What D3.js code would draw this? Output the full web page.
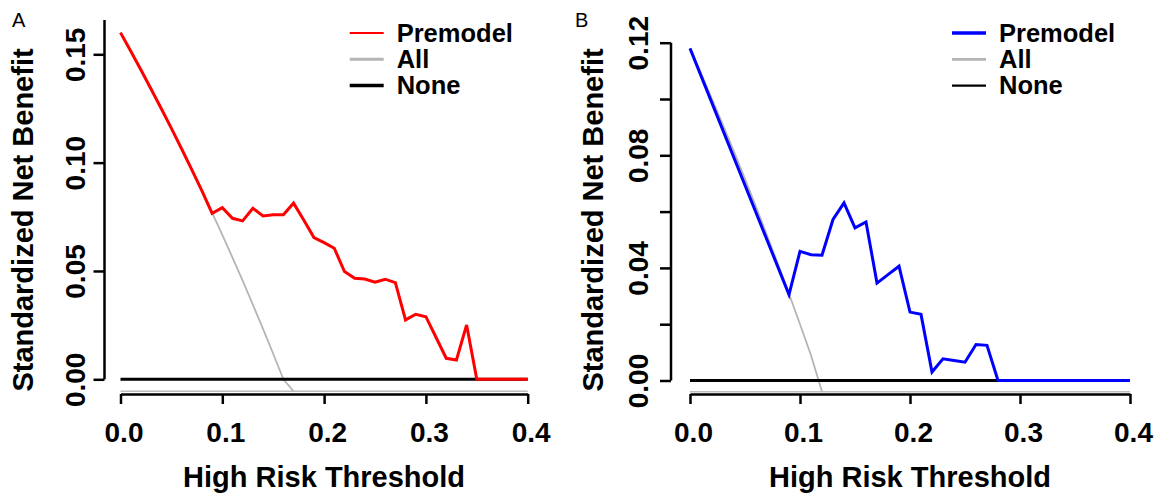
<!DOCTYPE html>
<html>
<head>
<meta charset="utf-8">
<script src="https://cdn.jsdelivr.net/npm/d3@7"></script>
<style>
  body { margin: 0; background: #fff; }
  text { font-family: "Liberation Sans", Arial, sans-serif; }
</style>
</head>
<body>
<svg id="chart" width="1163" height="493"></svg>
<script>
// thresholds and net benefit
const premodelA_t = [0, 0.01, 0.02, 0.03, 0.04, 0.05, 0.06, 0.07, 0.08, 0.09, 0.10, 0.11, 0.12, 0.13, 0.14, 0.15, 0.16, 0.17, 0.18, 0.19, 0.20, 0.21, 0.22, 0.23, 0.24, 0.25, 0.26, 0.27, 0.28, 0.29, 0.30, 0.31, 0.32, 0.33, 0.34, 0.35, 0.40];
const premodelA_v = [0.160, 0.1515, 0.1429, 0.1340, 0.1250, 0.1158, 0.1064, 0.0968, 0.0870, 0.0766, 0.0792, 0.0743, 0.0731, 0.0789, 0.0754, 0.0759, 0.0759, 0.0813, 0.0735, 0.0654, 0.0631, 0.0605, 0.0497, 0.0466, 0.0463, 0.0448, 0.0462, 0.0446, 0.0274, 0.0300, 0.0289, 0.0193, 0.0097, 0.0089, 0.0251, 0, 0];
const allA_t = [0, 0.01, 0.02, 0.03, 0.04, 0.05, 0.06, 0.07, 0.08, 0.09, 0.10, 0.11, 0.12, 0.13, 0.14, 0.15, 0.16, 0.17];
const allA_v = [0.160, 0.1515, 0.1429, 0.1340, 0.1250, 0.1158, 0.1064, 0.0968, 0.0870, 0.0769, 0.0667, 0.0562, 0.0455, 0.0345, 0.0233, 0.0118, 0.0, -0.0055];

const premodelB_t = [0, 0.09, 0.10, 0.11, 0.12, 0.13, 0.14, 0.15, 0.16, 0.17, 0.18, 0.19, 0.20, 0.21, 0.22, 0.23, 0.24, 0.25, 0.26, 0.27, 0.28, 0.40];
const premodelB_v = [0.118, 0.0305, 0.0459, 0.0447, 0.0445, 0.0572, 0.0631, 0.0542, 0.0563, 0.0346, 0.0376, 0.0406, 0.0243, 0.0235, 0.0030, 0.0077, 0.0071, 0.0065, 0.0128, 0.0125, 0, 0];
const allB_t = [0, 0.01, 0.02, 0.03, 0.04, 0.05, 0.06, 0.07, 0.08, 0.09, 0.10, 0.11, 0.12];
const allB_v = [0.118, 0.1091, 0.1000, 0.0907, 0.0813, 0.0716, 0.0617, 0.0516, 0.0413, 0.0308, 0.0200, 0.0090, -0.0040];

const xTicks = [0, 0.1, 0.2, 0.3, 0.4];
const yTicksA = [0, 0.05, 0.10, 0.15];
const yTicksB = [0, 0.02, 0.04, 0.06, 0.08, 0.10, 0.12];
const yLabelsB = [0, 0.04, 0.08, 0.12];
const legendNames = ["Premodel", "All", "None"];

const svg = d3.select("#chart");
svg.append("rect").attr("width", 1163).attr("height", 493).attr("fill", "#fff");

function panel(o) {
  const x = d3.scaleLinear().domain([0, 0.4]).range(o.xr);
  const y = d3.scaleLinear().domain([0, o.ymax]).range(o.yr);
  const g = svg.append("g");
  const line = d3.line().x(d => x(d[0])).y(d => y(d[1]));

  // gray floor line and "All" curve
  g.append("line")
    .attr("x1", x(0)).attr("x2", x(0.4))
    .attr("y1", y(o.floor)).attr("y2", y(o.floor))
    .attr("stroke", "#bdbdbd").attr("stroke-width", 1.5);
  g.append("path")
    .attr("d", line(d3.zip(o.allT, o.allV)))
    .attr("fill", "none").attr("stroke", "#b5b5b5").attr("stroke-width", 1.8);

  // "None" line
  g.append("line")
    .attr("x1", x(0)).attr("x2", x(0.4))
    .attr("y1", y(0)).attr("y2", y(0))
    .attr("stroke", "#000").attr("stroke-width", 3);

  // premodel
  g.append("path")
    .attr("d", line(d3.zip(o.preT, o.preV)))
    .attr("fill", "none").attr("stroke", o.color).attr("stroke-width", 3)
    .attr("stroke-linejoin", "miter");

  // x axis
  const xa = g.append("g")
    .attr("transform", `translate(0,${o.xAxisY})`)
    .call(d3.axisBottom(x).tickValues(xTicks).tickFormat(d3.format(".1f"))
      .tickSize(10).tickSizeOuter(0));
  xa.select(".domain").attr("stroke-width", 2.5);
  xa.selectAll(".tick line").attr("stroke-width", 2.5);
  xa.selectAll(".tick text")
    .attr("y", 47.7).attr("dy", null).attr("dx", 3)
    .attr("font-size", 28).attr("font-weight", "bold").attr("fill", "#000");

  // y axis
  const ya = g.append("g")
    .attr("transform", `translate(${o.yAxisX},0)`)
    .call(d3.axisLeft(y).tickValues(o.yTicks)
      .tickFormat(d => o.yLabels.includes(d) ? d3.format(o.fmt)(d) : "")
      .tickSize(11).tickSizeOuter(0));
  ya.select(".domain").remove();
  ya.append("line")
    .attr("x1", 0).attr("x2", 0)
    .attr("y1", y(0)).attr("y2", o.yTop)
    .attr("stroke", "#000").attr("stroke-width", 2.5);
  ya.selectAll(".tick line").attr("stroke-width", 2.5);
  ya.selectAll(".tick text")
    .attr("x", null).attr("dy", null)
    .attr("transform", `translate(${-o.yLabDist},0) rotate(-90)`)
    .attr("text-anchor", "middle")
    .attr("font-size", 28).attr("font-weight", "bold").attr("fill", "#000");

  // titles
  g.append("text")
    .attr("x", (x(0) + x(0.4)) / 2).attr("y", 486.7)
    .attr("text-anchor", "middle")
    .attr("font-size", 29).attr("font-weight", "bold")
    .text("High Risk Threshold");
  g.append("text")
    .attr("transform", `translate(${o.yTitleX},220) rotate(-90)`)
    .attr("text-anchor", "middle")
    .attr("font-size", 29).attr("font-weight", "bold")
    .text("Standardized Net Benefit");

  // panel letter
  g.append("text")
    .attr("x", o.letterX).attr("y", 27)
    .attr("font-size", 20)
    .text(o.letter);

  // legend
  const lx = x(0.4) - 178;
  const colors = [o.color, "#b5b5b5", "#000"];
  legendNames.forEach((name, i) => {
    const ly = 33 + i * 26.3;
    g.append("line")
      .attr("x1", lx).attr("x2", lx + 34)
      .attr("y1", ly).attr("y2", ly)
      .attr("stroke", colors[i]).attr("stroke-width", o.legendW[i]);
    g.append("text")
      .attr("x", lx + 47).attr("y", ly + 8.5)
      .attr("font-size", 25.5).attr("font-weight", "bold")
      .text(name);
  });
}

panel({
  xr: [120.5, 527.7], yr: [379.3, 54.3], ymax: 0.15,
  xAxisY: 394, yAxisX: 104.5, yTop: 20, yLabDist: 19.5, yTitleX: 33,
  yTicks: yTicksA, yLabels: yTicksA, fmt: ".2f",
  preT: premodelA_t, preV: premodelA_v, allT: allA_t, allV: allA_v,
  floor: -0.0055, color: "#ff0000", letter: "A", letterX: 12,
  legendW: [2, 3, 3.5]
});

panel({
  xr: [690, 1130], yr: [380.5, 42.7], ymax: 0.12,
  xAxisY: 394, yAxisX: 671, yTop: 42.7, yLabDist: 23, yTitleX: 603,
  yTicks: yTicksB, yLabels: yLabelsB, fmt: ".2f",
  preT: premodelB_t, preV: premodelB_v, allT: allB_t, allV: allB_v,
  floor: -0.0040, color: "#0000ff", letter: "B", letterX: 575,
  legendW: [3.3, 2.7, 2.2]
});
</script>
</body>
</html>
